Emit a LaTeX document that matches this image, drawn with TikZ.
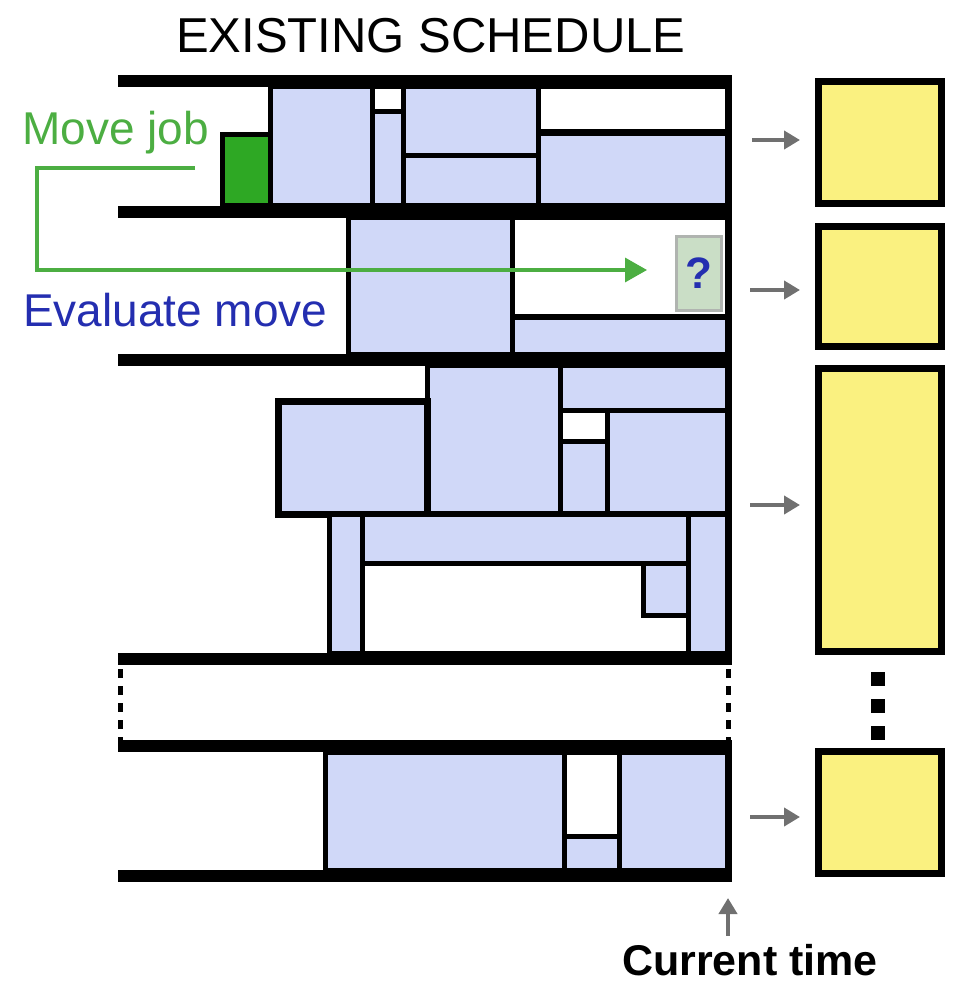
\documentclass[tikz,border=0pt]{standalone}
\usepackage{fontspec}
\setmainfont{Liberation Sans}
\usetikzlibrary{arrows.meta}

\definecolor{jobblue}{RGB}{208,216,248}
\definecolor{queueyellow}{RGB}{250,241,128}
\definecolor{movegreen}{RGB}{76,174,66}
\definecolor{jobgreen}{RGB}{46,168,36}
\definecolor{evalblue}{RGB}{36,46,176}
\definecolor{arrowgray}{RGB}{112,112,112}
\definecolor{qfill}{RGB}{202,222,198}
\definecolor{qedge}{RGB}{176,180,176}

\tikzset{
  job/.style={fill=jobblue, draw=black, line width=5pt},
  idle/.style={fill=white, draw=black, line width=5pt},
  lanebar/.style={fill=black},
  queue/.style={rectangle, draw=black, fill=queueyellow, line width=7pt,
    minimum width=123pt, inner sep=0pt},
  feed/.style={draw=arrowgray, line width=4pt, -{Triangle[length=16pt,width=18pt]}},
  movearrow/.style={draw=movegreen, line width=3.5pt, -{Triangle[length=22pt,width=24pt]}},
  lanedots/.style={line width=5pt, dash pattern=on 9pt off 8pt},
  queuedots/.style={line width=14pt, dash pattern=on 14pt off 13pt},
  label/.style={inner sep=0pt, anchor=base west},
}

\begin{document}
\begin{tikzpicture}[x=1pt,y=-1pt]
\useasboundingbox (0,0) rectangle (954,984);

% ---- machine 1 ----
\filldraw[fill=jobgreen, draw=black, line width=5pt] (222.5,134.5) rectangle (270,206);
\draw[job] (270,87) rectangle (372,206);
\draw[idle] (372,87) rectangle (403,112);
\draw[job] (372,112) rectangle (403,206);
\draw[job] (403,87) rectangle (538,155.5);
\draw[job] (403,155.5) rectangle (538,206);
\draw[idle] (538,87) rectangle (728,133);
\draw[job] (538,133) rectangle (728,206);
\draw[line width=7pt] (538,133) -- (728,133);

% ---- machine 2 ----
\draw[job] (348,218) rectangle (512.5,354);
\draw[idle] (512.5,218) rectangle (728,317);
\draw[job] (512.5,317) rectangle (728,354);
\draw[line width=6pt] (512.5,317) -- (728,317);

% ---- machine 3 ----
\draw[job] (427,365) rectangle (560,514);
\draw[job, line width=7pt] (278,401) rectangle (427,514);
\draw[job] (560,365) rectangle (728,410);
\draw[idle] (560,410) rectangle (607,441);
\draw[job] (560,441) rectangle (607,514);
\draw[job] (607,410) rectangle (728,514);
\draw[job] (329,514) rectangle (362,653);
\draw[job] (362,514) rectangle (688,563);
\draw[idle] (362,563) rectangle (688,653);
\draw[job] (643,563) rectangle (688,615);
\draw[job] (688,514) rectangle (728,653);
\draw[line width=6pt] (278,514) -- (728,514);

% ---- last machine ----
\draw[job] (325,752) rectangle (564,870);
\draw[idle] (564,752) rectangle (619,836);
\draw[job] (564,836) rectangle (619,870);
\draw[job] (619,752) rectangle (728,870);

% ---- machine boundaries and current-time edge ----
\fill[lanebar] (118,75) rectangle (732,87);
\fill[lanebar] (118,206) rectangle (732,218);
\fill[lanebar] (118,354) rectangle (732,366);
\fill[lanebar] (118,653) rectangle (732,665);
\fill[lanebar] (118,740) rectangle (732,752);
\fill[lanebar] (118,870) rectangle (732,882);
\fill[lanebar] (725,75) rectangle (732,665);
\fill[lanebar] (725,740) rectangle (732,882);
\draw[lanedots] (120,669) -- (120,740);
\draw[lanedots] (728.5,669) -- (728.5,740);

% ---- candidate slot ----
\node[rectangle, draw=qedge, fill=qfill, line width=3pt, minimum width=45pt,
      minimum height=73pt, inner sep=0pt, text=evalblue,
      font=\bfseries\fontsize{44}{46}\selectfont] (slot) at (698.5,273.5) {?};

% ---- move-job path ----
\coordinate (mvstart) at (195,168);
\coordinate (mvbend) at (37,270);
\coordinate (mvend) at (647,270);
\draw[movearrow] (mvstart) -| (mvbend) -- (mvend);

% ---- labels ----
\node[label, font=\fontsize{49}{51}\selectfont] (title) at (176,53) {EXISTING SCHEDULE};
\node[label, text=movegreen, font=\fontsize{46}{48}\selectfont] (movelbl) at (22,145) {Move job};
\node[label, text=evalblue, font=\fontsize{46}{48}\selectfont] (evallbl) at (23,326) {Evaluate move};
\node[inner sep=0pt, anchor=base, font=\bfseries\fontsize{43}{45}\selectfont] (nowlbl) at (750,975) {Current time};

% ---- per-machine evaluations ----
\node[queue, minimum height=122pt] (y1) at (880,142.5) {};
\node[queue, minimum height=120pt] (y2) at (880,286.5) {};
\node[queue, minimum height=283pt] (y3) at (880,510) {};
\node[queue, minimum height=122pt] (y4) at (880,812.5) {};
\draw[queuedots, shorten <=17pt, shorten >=8pt] ([xshift=-2pt]y3.south) -- ([xshift=-2pt]y4.north);

\coordinate (f1) at (752,140);
\coordinate (f2) at (750,290);
\coordinate (f3) at (750,505);
\coordinate (f4) at (750,817);
\draw[feed, shorten >=15pt] (f1) -- (f1 -| y1.west);
\draw[feed, shorten >=15pt] (f2) -- (f2 -| y2.west);
\draw[feed, shorten >=15pt] (f3) -- (f3 -| y3.west);
\draw[feed, shorten >=15pt] (f4) -- (f4 -| y4.west);

% ---- current-time pointer ----
\coordinate (now) at (728,898);
\draw[feed, shorten <=8pt] (nowlbl.north -| now) -- (now);
\end{tikzpicture}
\end{document}
